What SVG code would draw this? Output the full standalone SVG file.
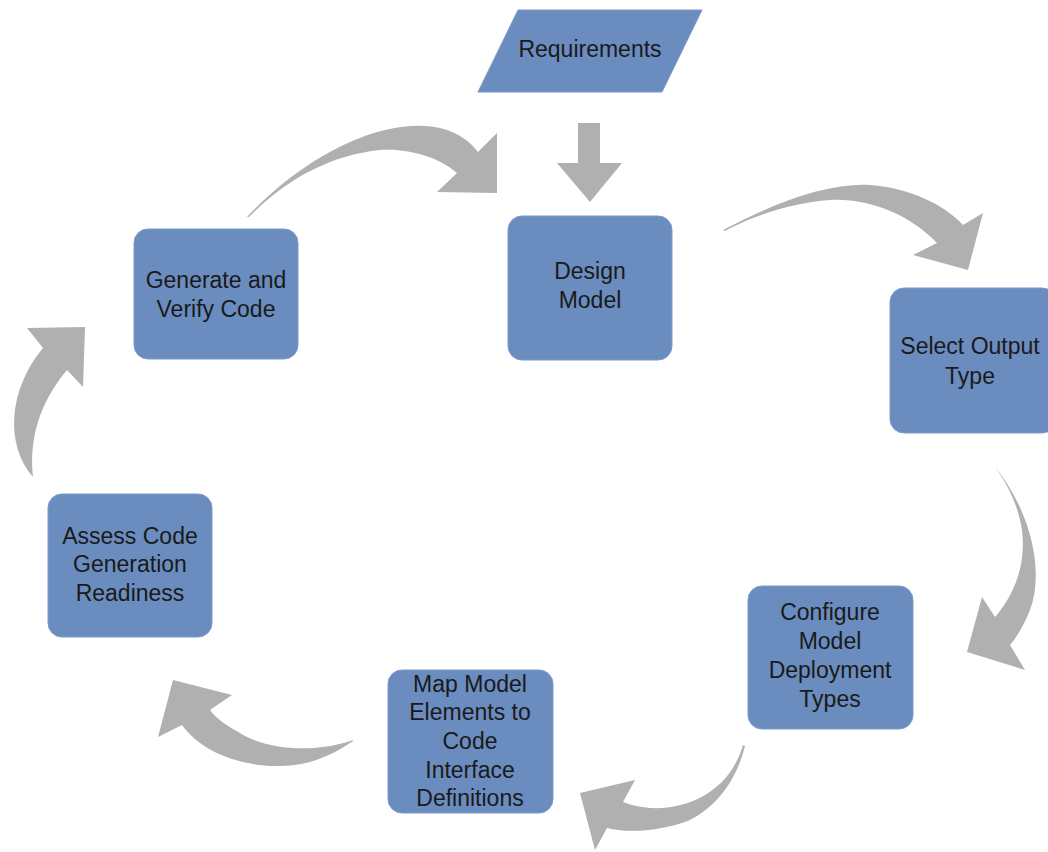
<svg xmlns="http://www.w3.org/2000/svg" width="1048" height="852" viewBox="0 0 1048 852">
  <style>
    .box { fill: #6a8cbf; stroke: #7b9acb; stroke-width: 1; }
    .lbl { font-family: "Liberation Sans", Arial, sans-serif; font-size: 23px; fill: #1a1a1a; text-anchor: middle; }
    .arr { fill: #b0b0b0; stroke: none; }
  </style>
  <rect width="1048" height="852" fill="#ffffff"/>

  <!-- connectors: grey block arrows -->
  <g id="connectors">
    <!-- Requirements -> Design Model -->
    <path class="arr" d="M578,123 L600,123 L600,163 L622,163 L590,202 L557,163 L578,163 Z"/>
    <!-- Design Model -> Select Output Type -->
    <path class="arr" d="M723,230 C780,200 830,183 870,185 C910,188 945,205 963,225 L983,213 L968,270 L913,255 L937,243 C910,215 870,198 830,200 C790,203 750,217 725,231 Z"/>
    <!-- Select Output Type -> Configure Model Deployment Types -->
    <path class="arr" d="M995,467 C1030,510 1045,570 1030,610 C1024,625 1017,637 1010,645 L1025,670 L967,652 L982,597 L995,617 C1010,600 1027,570 1022,530 C1018,505 1008,485 995,467 Z"/>
    <!-- Configure -> Map Model Elements -->
    <path class="arr" d="M743,745 C730,790 690,810 650,808 C640,807 630,805 623,802 L635,780 L580,793 L595,850 L607,828 C625,833 660,832 690,820 C720,805 738,775 745,746 Z"/>
    <!-- Map Model Elements -> Assess Readiness -->
    <path class="arr" d="M353,740 C320,752 270,752 240,733 C225,725 215,717 210,710 L232,695 L173,680 L158,737 L182,725 C200,750 235,765 275,766 C305,767 330,757 353,741 Z"/>
    <!-- Assess Readiness -> Generate and Verify Code -->
    <path class="arr" d="M33,477 C5,445 8,390 43,348 L27,328 L85,327 L83,387 L67,370 C46,395 28,430 33,477 Z"/>
    <!-- Generate and Verify Code -> Design Model -->
    <path class="arr" d="M247,217 C300,160 380,115 440,128 C460,133 470,142 478,152 L497,133 L497,193 L437,192 L457,173 C440,158 410,148 380,150 C330,155 285,180 249,217 Z"/>
  </g>

  <g id="requirements">
    <path class="box" d="M518,10 L702,10 L662,92 L478,92 Z"/>
    <text class="lbl" x="590" y="57">Requirements</text>
  </g>

  <g id="design-model">
    <rect class="box" x="508" y="216" width="164" height="144" rx="14"/>
    <text class="lbl" x="590" y="279">Design</text>
    <text class="lbl" x="590" y="308">Model</text>
  </g>

  <g id="select-output-type">
    <rect class="box" x="890" y="288" width="166" height="145" rx="14"/>
    <text class="lbl" x="970" y="354">Select Output</text>
    <text class="lbl" x="970" y="384">Type</text>
  </g>

  <g id="configure-deployment">
    <rect class="box" x="748" y="586" width="165" height="143" rx="14"/>
    <text class="lbl" x="830" y="620">Configure</text>
    <text class="lbl" x="830" y="649">Model</text>
    <text class="lbl" x="830" y="678">Deployment</text>
    <text class="lbl" x="830" y="707">Types</text>
  </g>

  <g id="map-elements">
    <rect class="box" x="388" y="670" width="165" height="143" rx="14"/>
    <text class="lbl" x="470" y="692">Map Model</text>
    <text class="lbl" x="470" y="720">Elements to</text>
    <text class="lbl" x="470" y="749">Code</text>
    <text class="lbl" x="470" y="778">Interface</text>
    <text class="lbl" x="470" y="806">Definitions</text>
  </g>

  <g id="assess-readiness">
    <rect class="box" x="48" y="494" width="164" height="143" rx="14"/>
    <text class="lbl" x="130" y="544">Assess Code</text>
    <text class="lbl" x="130" y="572">Generation</text>
    <text class="lbl" x="130" y="601">Readiness</text>
  </g>

  <g id="generate-verify">
    <rect class="box" x="134" y="229" width="164" height="130" rx="14"/>
    <text class="lbl" x="216" y="288">Generate and</text>
    <text class="lbl" x="216" y="317">Verify Code</text>
  </g>
</svg>
